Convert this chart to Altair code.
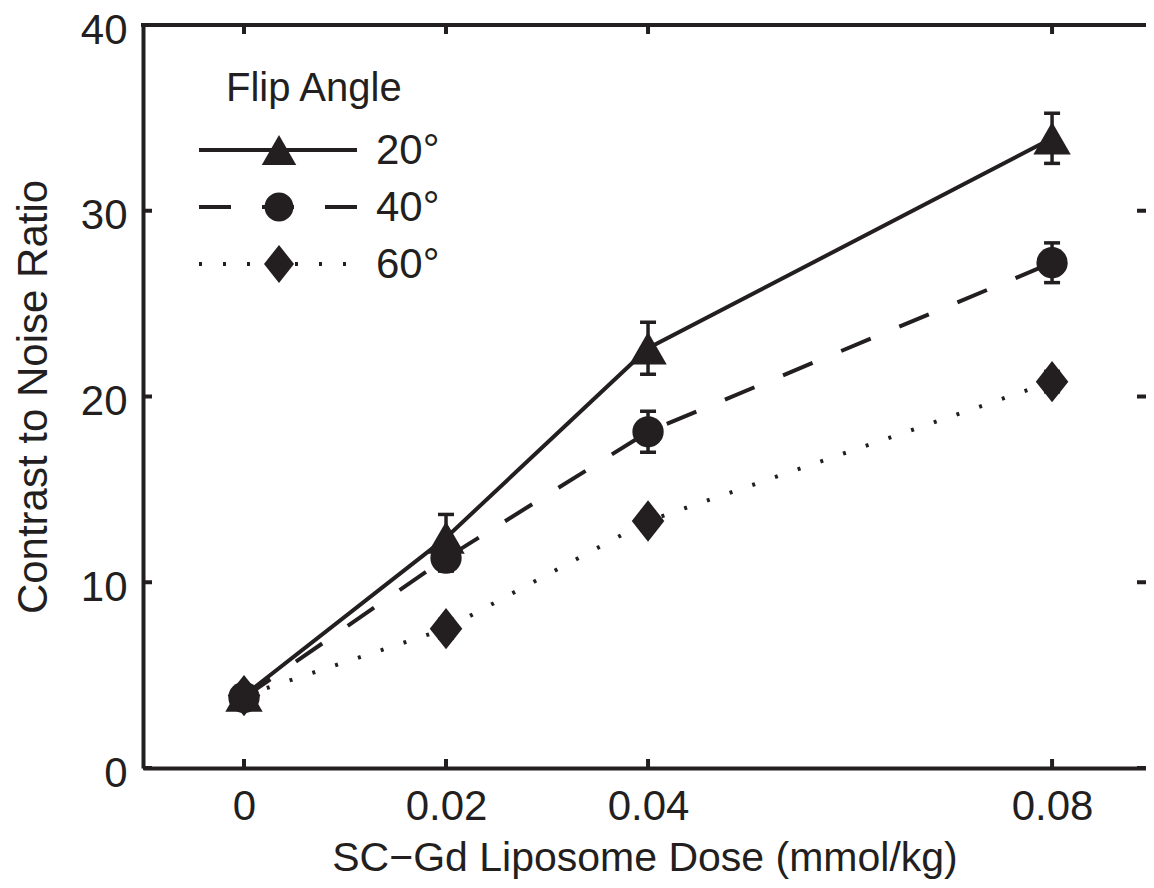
import altair as alt
import pandas as pd

# ---- data ----
dose = [0, 0.02, 0.04, 0.08]
cnr_20 = [3.9, 12.4, 22.6, 33.9]
err_20 = [0.4, 1.25, 1.4, 1.35]
cnr_40 = [3.8, 11.3, 18.1, 27.2]
err_40 = [0.4, 0.7, 1.1, 1.07]
cnr_60 = [3.9, 7.5, 13.3, 20.8]
err_60 = [0.4, 0.5, 0.5, 0.55]

series_labels = ["20°", "40°", "60°"]
x_tick_values = [0, 0.02, 0.04, 0.08]
y_tick_values = [0, 10, 20, 30, 40]

INK = "#231f20"
FONT = "Liberation Sans"
W, H = 1003, 743

x_scale = alt.Scale(domain=[-0.01, 0.0893], nice=False, zero=False)
y_scale = alt.Scale(domain=[0, 40], nice=False, zero=False)
x_axis = alt.Axis(values=x_tick_values, format=".2~f", title="SC\u2212Gd Liposome Dose (mmol/kg)",
                  grid=False, domain=True, domainWidth=4, domainColor=INK,
                  ticks=False, tickSize=0, labelPadding=18,
                  titleBaseline="alphabetic", titleY=102, titleFontWeight="normal",
                  labelFontSize=42, titleFontSize=41, labelFont=FONT, titleFont=FONT,
                  labelColor=INK, titleColor=INK)
y_axis = alt.Axis(values=y_tick_values, format="d", title="Contrast to Noise Ratio",
                  grid=False, domain=True, domainWidth=4, domainColor=INK,
                  ticks=False, tickSize=0, labelPadding=16, labelOffset=5,
                  titlePadding=25, titleFontWeight="normal",
                  labelFontSize=42, titleFontSize=42, labelFont=FONT, titleFont=FONT,
                  labelColor=INK, titleColor=INK)


def X(field):
    return alt.X(field, type="quantitative", scale=x_scale, axis=x_axis)


def Y(field):
    return alt.Y(field, type="quantitative", scale=y_scale, axis=y_axis)


styles = [
    dict(shape="triangle-up", size=1400, dash=None),
    dict(shape="circle", size=980, dash=[32, 31]),
    dict(shape="M0,-1.27L1,0L0,1.27L-1,0Z", size=1060, dash=[3, 21]),
]
values = [cnr_20, cnr_40, cnr_60]
errors = [err_20, err_40, err_60]

layers = []

# frame top edge and inward tick marks on all four sides
xt = alt.Chart(pd.DataFrame({"dose": x_tick_values}))
yt = alt.Chart(pd.DataFrame({"cnr": y_tick_values}))
layers.append(xt.mark_rule(color=INK, strokeWidth=4).encode(
    x=alt.value(-2), x2=alt.value(W), y=alt.value(0)))
layers.append(xt.mark_rule(color=INK, strokeWidth=4).encode(x=X("dose"), y=alt.value(H), y2=alt.value(H - 9)))
layers.append(xt.mark_rule(color=INK, strokeWidth=4).encode(x=X("dose"), y=alt.value(0), y2=alt.value(9)))
layers.append(yt.mark_rule(color=INK, strokeWidth=4).encode(y=Y("cnr"), x=alt.value(0), x2=alt.value(9)))
layers.append(yt.mark_rule(color=INK, strokeWidth=4).encode(y=Y("cnr"), x=alt.value(W), x2=alt.value(W - 9)))

for vals, errs, st in zip(values, errors, styles):
    df = pd.DataFrame({"dose": dose, "cnr": vals, "err": errs})
    base = alt.Chart(df).transform_calculate(lo="datum.cnr - datum.err", hi="datum.cnr + datum.err")
    line_kw = dict(color=INK, strokeWidth=4, strokeCap="butt")
    if st["dash"]:
        line_kw["strokeDash"] = st["dash"]
    layers.append(base.mark_line(**line_kw).encode(x=X("dose"), y=Y("cnr")))
    layers.append(base.mark_rule(color=INK, strokeWidth=3.5).encode(x=X("dose"), y=Y("lo"), y2=alt.Y2("hi")))
    layers.append(base.mark_tick(color=INK, orient="horizontal", size=16, thickness=3.5, opacity=1).encode(x=X("dose"), y=Y("lo")))
    layers.append(base.mark_tick(color=INK, orient="horizontal", size=16, thickness=3.5, opacity=1).encode(x=X("dose"), y=Y("hi")))
    layers.append(base.mark_point(shape=st["shape"], size=st["size"], filled=True, color=INK, opacity=1, strokeWidth=0)
                  .encode(x=X("dose"), y=Y("cnr")))

# legend drawn inside the plot
leg_title = alt.Chart(pd.DataFrame({"t": ["Flip Angle"]})).mark_text(
    align="left", baseline="alphabetic", font=FONT, fontSize=40, color=INK
).encode(x=alt.value(83), y=alt.value(76), text="t:N")
layers.append(leg_title)
for i, (lab, st) in enumerate(zip(series_labels, styles)):
    yy = 125 + 57 * i
    d = alt.Chart(pd.DataFrame({"label": [lab]}))
    rule_kw = dict(color=INK, strokeWidth=4, strokeCap="butt")
    if st["dash"]:
        rule_kw["strokeDash"] = st["dash"]
    layers.append(d.mark_rule(**rule_kw).encode(x=alt.value(56), x2=alt.value(214), y=alt.value(yy)))
    layers.append(d.mark_point(shape=st["shape"], size=st["size"] * 0.85, filled=True, color=INK, opacity=1, strokeWidth=0)
                  .encode(x=alt.value(136), y=alt.value(yy)))
    layers.append(d.mark_text(align="left", baseline="alphabetic", font=FONT, fontSize=42, color=INK)
                  .encode(x=alt.value(233), y=alt.value(yy + 14), text="label:N"))

chart = alt.layer(*layers).properties(
    width=W, height=H,
    autosize=alt.AutoSizeParams(type="none"),
    padding={"left": 135, "top": 17, "right": 0, "bottom": 112},
).configure_view(stroke=None).configure(background="white")

chart.save("out.html", embed_options={"renderer": "svg", "actions": False})
